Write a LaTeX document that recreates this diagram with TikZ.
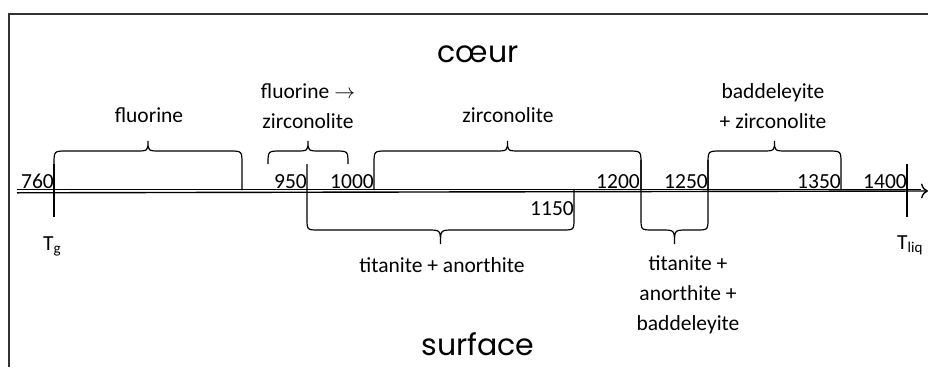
\documentclass[tikz,border=0pt]{standalone}
\usepackage{fontspec}
\setmainfont{Carlito}
\newfontfamily\comicfont{Poppins}
\usetikzlibrary{arrows.meta}

\tikzset{
  lbl/.style = {font=\fontsize{21.5}{30}\selectfont, inner sep=0pt, align=center},
  big/.style = {font=\comicfont\fontsize{30}{36}\selectfont, inner sep=0pt},
  brace/.style = {line width=1.2pt},
  tick/.style = {line width=1.2pt}
}

% upper brace: x1, x2, bottom of left leg, bottom of right leg
\newcommand{\upbrace}[4]{%
  \draw[brace] (#1,#3) -- (#1,164) .. controls (#1,151) .. (#1+13,151)
    -- ({(#1+#2)/2-13},151) .. controls ({(#1+#2)/2},151) .. ({(#1+#2)/2},141)
    .. controls ({(#1+#2)/2},151) .. ({(#1+#2)/2+13},151)
    -- (#2-13,151) .. controls (#2,151) .. (#2,164) -- (#2,#4);}
% lower brace: x1, x2, top of left leg, top of right leg
\newcommand{\lowbrace}[4]{%
  \draw[brace] (#1,#3) -- (#1,218) .. controls (#1,230) .. (#1+12,230)
    -- ({(#1+#2)/2-13},230) .. controls ({(#1+#2)/2},230) .. ({(#1+#2)/2},244)
    .. controls ({(#1+#2)/2},230) .. ({(#1+#2)/2+13},230)
    -- (#2-12,230) .. controls (#2,230) .. (#2,218) -- (#2,#4);}

\begin{document}
\begin{tikzpicture}[x=1pt, y=-1pt]
\useasboundingbox (0,0) rectangle (928,367);
\draw[line width=1.5pt, black!80] (9,367) -- (9,14) -- (928,14);

\coordinate (ax0) at (17,191);
\coordinate (ax1) at (928,191);
\draw[line width=0.8pt] (17,189.3) -- (921,189.3);
\draw[line width=1.4pt, -{To[length=7pt, width=15pt, line width=1.4pt]}] (17,192.8) -- (ax1);

\draw[tick] (54,164) -- (54,217);
\draw[tick] (907,164) -- (907,217);

\upbrace{54}{242}{190}{190}
\upbrace{268}{348}{164}{164}
\upbrace{374}{641}{190}{190}
\upbrace{708}{841}{190}{190}
\lowbrace{307}{574}{164}{190}
\lowbrace{641}{708}{160}{160}

\node[big, anchor=base] (coeur) at (478,62) {cœur};
\node[big, anchor=base] (surf) at (478,355) {surface};

\node[lbl, anchor=base] (fluo) at (149,122) {fluorine};
\node[lbl, anchor=base] (fluozr) at (308,128) {fluorine $\rightarrow$\\zirconolite};
\node[lbl, anchor=base] (zirc) at (508,122) {zirconolite};
\node[lbl, anchor=base] (badzr) at (773,128) {baddeleyite\\+ zirconolite};
\node[lbl, anchor=base] (titan) at (442,272) {titanite + anorthite};
\node[lbl, anchor=base] (titbad) at (688,330) {titanite +\\anorthite +\\baddeleyite};

\node[lbl, anchor=base east] (t760) at (54,188) {760};
\node[lbl, anchor=base east] (t950) at (307,188) {950};
\node[lbl, anchor=base east] (t1000) at (374,188) {1000};
\node[lbl, anchor=base east] (t1150) at (574,215) {1150};
\node[lbl, anchor=base east] (t1200) at (640,188) {1200};
\node[lbl, anchor=base east] (t1250) at (708,188) {1250};
\node[lbl, anchor=base east] (t1350) at (841,188) {1350};
\node[lbl, anchor=base east] (t1400) at (907,188) {1400};

\node[lbl, anchor=base west] (tg) at (43,250) {T\textsubscript{g}};
\node[lbl, anchor=base west] (tliq) at (897,249) {T\textsubscript{liq}};
\end{tikzpicture}
\end{document}
